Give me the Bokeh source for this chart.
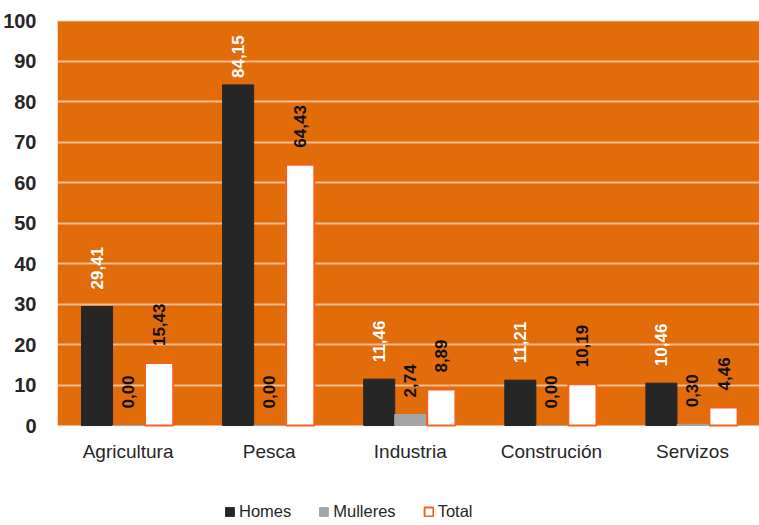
import numpy as np
from bokeh.plotting import figure
from bokeh.models import (ColumnDataSource, Range1d, FixedTicker, Legend, LegendItem,
                          BoxAnnotation)
from bokeh.transform import dodge
from bokeh.core.properties import value
from bokeh.embed import file_html
from bokeh.resources import INLINE

categories = ["Agricultura", "Pesca", "Industria", "Construción", "Servizos"]
homes = [29.41, 84.15, 11.46, 11.21, 10.46]
mulleres = [0.00, 0.00, 2.74, 0.00, 0.30]
total = [15.43, 64.43, 8.89, 10.19, 4.46]
y_ticks = [0, 10, 20, 30, 40, 50, 60, 70, 80, 90, 100]

FONT = "Liberation Sans"
ORANGE = "#E26B0A"

def fmt(v):
    return f"{v:.2f}".replace(".", ",")

def off(v):
    # labels near the top are pulled closer to the bar
    return -7 if v > 80 else -17

idx = list(range(len(categories)))
src = ColumnDataSource(dict(
    x=idx, cat=categories, zero=[0] * len(idx),
    homes=homes, mulleres=mulleres, total=total,
    homes_lbl=[fmt(v) for v in homes],
    mulleres_lbl=[fmt(v) for v in mulleres],
    total_lbl=[fmt(v) for v in total],
    homes_off=[off(v) for v in homes],
    mulleres_off=[off(v) for v in mulleres],
    total_off=[off(v) for v in total],
))

# plot area: value 0..100 spans 405 px; the frame extends below 0 to hold the
# category labels and the legend
y_top = max(y_ticks)
px_per_unit = 405 / y_top
y_bottom = -(525 - 20 - 405) / px_per_unit

p = figure(width=759, height=525, output_backend="svg", toolbar_location=None,
           x_range=Range1d(-0.5, 4.475), y_range=Range1d(y_bottom, y_top + 0.3),
           min_border_left=55, min_border_right=0, min_border_top=19,
           min_border_bottom=0)
p.background_fill_color = "white"
p.border_fill_color = "white"
p.outline_line_color = None
p.xaxis.visible = False
p.xgrid.visible = False
p.ygrid.visible = False

p.add_layout(BoxAnnotation(bottom=0, top=y_top, fill_color=ORANGE, fill_alpha=1,
                           line_color=None, level="underlay"))
p.hspan(y=y_ticks[1:], line_color="white", line_alpha=0.55, line_width=2)

bw = 0.22
r_h = p.vbar(x=dodge("x", -bw, range=p.x_range), top="homes", width=bw, source=src,
             fill_color="#262626", line_color="#262626", line_width=1)
r_m = p.vbar(x=dodge("x", 0, range=p.x_range), top="mulleres", width=bw, source=src,
             fill_color="#A5A5A5", line_color="#A5A5A5", line_width=1)
r_t = p.vbar(x=dodge("x", bw, range=p.x_range), top="total", width=bw - 0.02, source=src,
             fill_color="white", line_color="#F4621F", line_width=2)

lbl_kw = dict(angle=np.pi / 2, text_align="left", text_baseline="middle",
              text_font=value(FONT), text_font_style="bold", text_font_size="17px",
              source=src)
p.text(x=dodge("x", -bw, range=p.x_range), y="homes", text="homes_lbl",
       y_offset="homes_off", text_color="white", **lbl_kw)
p.text(x=dodge("x", 0, range=p.x_range), y="mulleres", text="mulleres_lbl",
       y_offset="mulleres_off", text_color="#111111", **lbl_kw)
p.text(x=dodge("x", bw, range=p.x_range), y="total", text="total_lbl",
       y_offset="total_off", text_color="#111111", **lbl_kw)

# category labels
p.text(x="x", y="zero", text="cat", source=src, text_align="center",
       text_baseline="top", y_offset=15, text_font=value(FONT),
       text_font_size="19px", text_color="#262626")

# y axis
p.yaxis.ticker = FixedTicker(ticks=y_ticks)
p.yaxis.axis_line_color = None
p.yaxis.major_tick_line_color = None
p.yaxis.minor_tick_line_color = None
p.yaxis.major_label_text_font = FONT
p.yaxis.major_label_text_font_style = "bold"
p.yaxis.major_label_text_font_size = "20px"
p.yaxis.major_label_text_color = "#262626"
p.yaxis.major_label_standoff = 15

legend = Legend(items=[LegendItem(label="Homes", renderers=[r_h]),
                       LegendItem(label="Mulleres", renderers=[r_m]),
                       LegendItem(label="Total", renderers=[r_t])],
                location=(167, 4), orientation="horizontal",
                glyph_width=11, glyph_height=11, label_standoff=4, spacing=27,
                padding=0, margin=0, border_line_color=None,
                background_fill_alpha=0,
                label_text_font=FONT, label_text_font_size="16.5px",
                label_text_color="#262626", label_height=20)
p.add_layout(legend)

open("out.html", "w").write(file_html(p, INLINE))
